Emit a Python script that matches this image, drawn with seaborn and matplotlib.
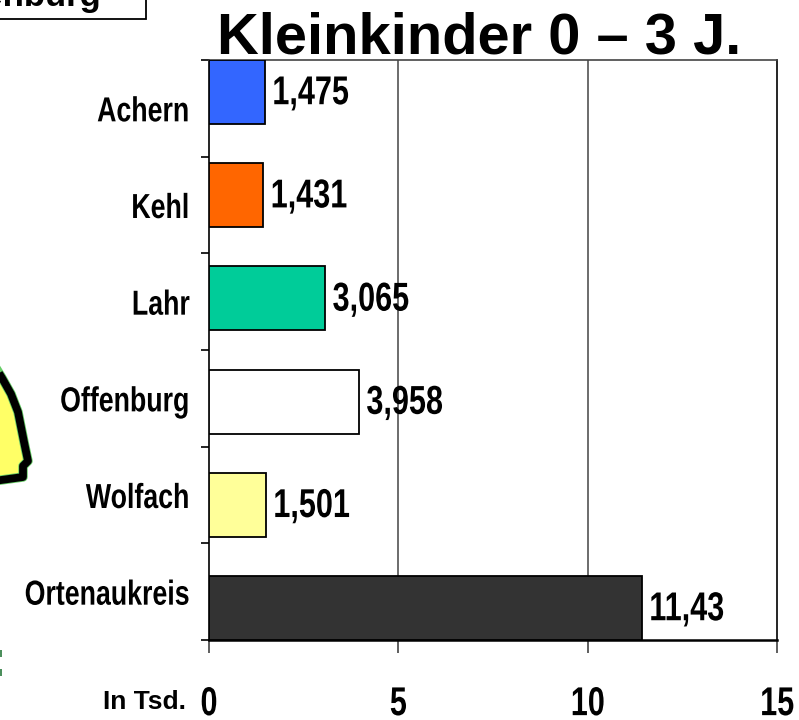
import numpy as np
import matplotlib
matplotlib.use('Agg')
import matplotlib.pyplot as plt
from matplotlib.patches import Polygon, Rectangle
from matplotlib.patheffects import AbstractPathEffect
from matplotlib.transforms import Affine2D
import seaborn as sns

orte = ['Achern', 'Kehl', 'Lahr', 'Offenburg', 'Wolfach', 'Ortenaukreis']
werte = [1.475, 1.431, 3.065, 3.958, 1.501, 11.43]
beschriftung = ['1,475', '1,431', '3,065', '3,958', '1,501', '11,43']
farben = ['#3366ff', '#ff6600', '#00cc99', '#ffffff', '#ffff99', '#333333']
x_ticks = [0, 5, 10, 15]

W, H = 799, 720


# kein narrow font installiert, also die schrift horizontal stauchen
class Schmal(AbstractPathEffect):
    def __init__(self, s, anker='left'):
        super().__init__()
        self.s = s
        self.anker = anker

    def draw_path(self, renderer, gc, tpath, affine, rgbFace=None):
        ext = tpath.get_extents()
        x0 = {'left': 0, 'right': ext.x1, 'center': (ext.x0 + ext.x1) / 2}[self.anker]
        t = Affine2D().translate(-x0, 0).scale(self.s, 1).translate(x0, 0)
        renderer.draw_path(gc, tpath, t + affine, rgbFace)


sns.set_theme(style='white')
plt.rcParams['font.family'] = ['Liberation Sans', 'DejaVu Sans']
plt.rcParams['font.weight'] = 'bold'
plt.rcParams['text.color'] = 'black'

fig = plt.figure(figsize=(W / 100, H / 100), dpi=100)
ax = fig.add_axes([209 / W, 1 - 640 / H, 568 / W, 580 / H])

sns.barplot(x=werte, y=orte, hue=orte, palette=farben, legend=False, width=0.62,
            edgecolor='black', linewidth=1.3, saturation=1, ax=ax, zorder=3)

ax.set_xlim(0, 15)
ax.set_ylim(5.31, -0.31)
ax.grid(False)

# gitterlinien
for x in x_ticks[1:-1]:
    ax.axvline(x, color='#444444', lw=1.1, zorder=1)

# ticks sitzen zwischen den balken, labels mittig im intervall
grenzen = np.linspace(-0.31, 5.31, len(orte) + 1)
mitten = (grenzen[:-1] + grenzen[1:]) / 2
ax.set_yticks(grenzen)
ax.set_yticklabels([])
ax.set_yticks(mitten, minor=True)
ax.set_yticklabels(orte, minor=True, fontsize=25, va='center_baseline', color='black',
                   path_effects=[Schmal(0.77, 'right')])
ax.tick_params(axis='y', which='major', left=True, length=5.8, width=1.2, color='black')
ax.tick_params(axis='y', which='minor', left=False, length=0, pad=13.8)

ax.set_xticks(x_ticks)
ax.set_xticklabels(x_ticks, fontsize=29, color='black', path_effects=[Schmal(0.76, 'center')])
ax.tick_params(axis='x', bottom=True, length=9.5, width=1.1, color='#333333', pad=23)

for s in ax.spines.values():
    s.set_visible(True)
    s.set_color('black')
    s.set_linewidth(1.2)
ax.spines['top'].set_color('#444444')
ax.spines['bottom'].set_linewidth(1.8)

for i, (w, t) in enumerate(zip(werte, beschriftung)):
    ax.annotate(t, (w, i), xytext=(5.4, 2), textcoords='offset points',
                va='center_baseline', ha='left', fontsize=29, color='black', zorder=5,
                path_effects=[Schmal(0.76, 'left')])

fig.text(217 / W, 1 - 53 / H, 'Kleinkinder 0 – 3 J.', ha='left', va='baseline',
         fontsize=41.7, color='black')
fig.text(186 / W, 1 - 702 / H, 'In Tsd.', ha='right', va='center', fontsize=19, color='black')

# kasten oben links, am rand abgeschnitten
fig.add_artist(Rectangle((-5 / W, 1 - 19 / H), 151 / W, 30 / H, fc='white', ec='black',
                         lw=1.3, transform=fig.transFigure))
fig.text(101 / W, 1 - 6 / H, 'Offenburg', ha='right', va='baseline', fontsize=25, color='black')

# rest der karte am linken rand
karte = [(-6, 365), (2, 378), (11, 394), (18, 412), (24, 442), (28, 461), (23, 466),
         (23, 477), (-6, 481)]
pts = [(x / W, 1 - y / H) for x, y in karte]
fig.add_artist(Polygon(pts, closed=True, fc='#ffff66', ec='#66cc66', lw=6.8,
                       joinstyle='round', transform=fig.transFigure))
fig.add_artist(Polygon(pts, closed=True, fc='none', ec='black', lw=5.6,
                       joinstyle='round', transform=fig.transFigure))

# gruene reste unten links
for y in [652, 671]:
    fig.add_artist(Rectangle((0, 1 - (y + 5) / H), 2 / W, 7 / H, fc='#4c8f5c', ec='none',
                             transform=fig.transFigure))

fig.savefig('out.png', dpi=100)
